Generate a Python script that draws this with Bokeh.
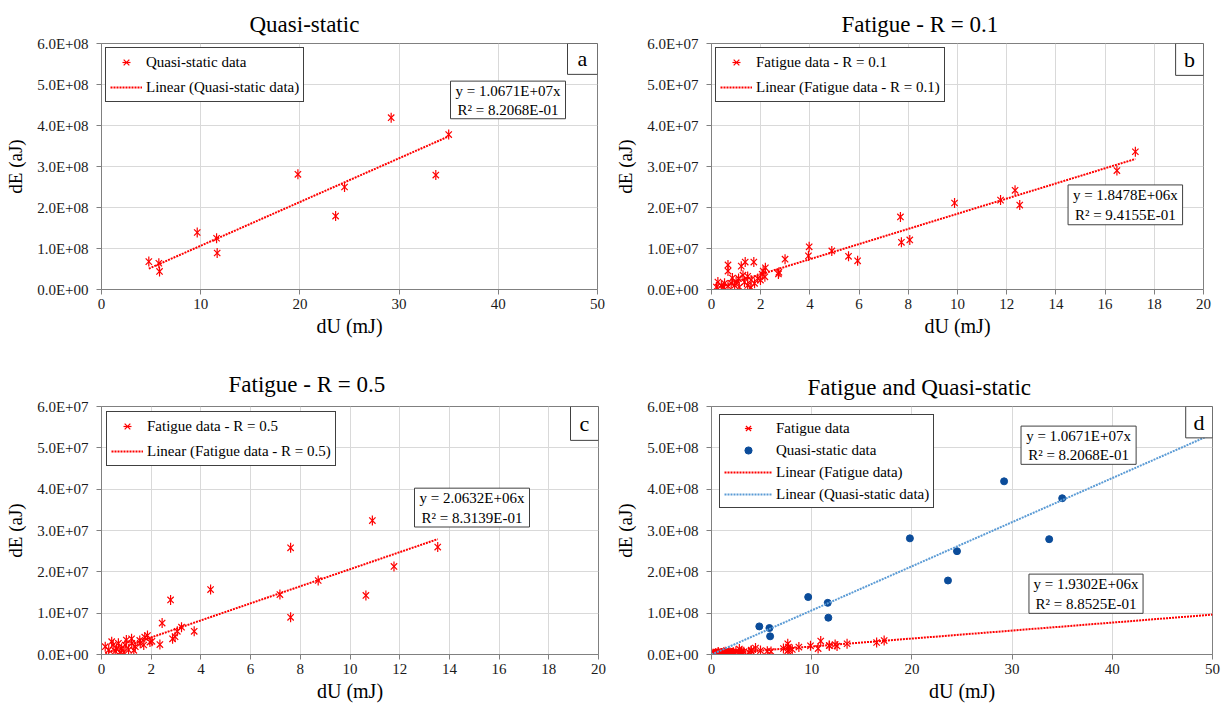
import numpy as np
from bokeh.plotting import figure
from bokeh.layouts import column, row
from bokeh.models import (Range1d, FixedTicker, Legend, LegendItem, Label, BoxAnnotation, Title)
from bokeh.embed import file_html
from bokeh.resources import INLINE

FONT = "Liberation Serif"
RED = "#FF0000"
NAVY = "#0B4C9A"
LBLUE = "#5B9BD5"
FRAME = "#808080"
GRID = "#D9D9D9"
BOXLINE = "#404040"

# ---------------- data ----------------
# Quasi-static: dU (mJ), dE (aJ)
qs_du = [4.77, 5.78, 5.85, 9.65, 11.6, 11.66, 19.8, 23.6, 24.5, 29.2, 33.7, 35.0]
qs_de = [0.68e8, 0.64e8, 0.44e8, 1.39e8, 1.25e8, 0.89e8, 2.81e8, 1.79e8, 2.50e8, 4.19e8, 2.79e8, 3.78e8]

# Fatigue R = 0.1: dU (mJ), dE (x1e7 aJ)
f1_du = [17.23, 16.48, 12.34, 11.75, 12.53, 9.88, 7.68, 7.72, 8.06, 4.89,
         5.57, 5.94, 3.97, 3.94, 2.99, 2.74, 2.72, 0.67, 0.67, 1.21,
         1.37, 1.72, 2.19, 2.06, 1.88, 1.61, 1.28, 1.34, 1.00, 0.80,
         0.53, 0.26, 0.20, 0.47, 0.67, 0.94, 1.13, 1.47, 1.75, 1.99,
         2.17, 1.47, 2.10, 0.40, 1.60, 1.10, 0.85]
f1_de_e7 = [3.36, 2.90, 2.42, 2.18, 2.06, 2.11, 1.77, 1.15, 1.21, 0.94,
            0.81, 0.70, 1.04, 0.82, 0.74, 0.42, 0.38, 0.60, 0.45, 0.57,
            0.67, 0.67, 0.53, 0.37, 0.27, 0.23, 0.35, 0.18, 0.18, 0.15,
            0.15, 0.18, 0.06, 0.05, 0.08, 0.10, 0.06, 0.10, 0.15, 0.23,
            0.31, 0.32, 0.45, 0.10, 0.05, 0.27, 0.28]

# Fatigue R = 0.5: dU (mJ), dE (x1e7 aJ)
f5_du = [10.9, 13.53, 11.77, 7.61, 8.72, 7.18, 7.61, 10.64, 4.39, 2.78,
         2.44, 3.73, 3.22, 3.05, 2.86, 2.35, 1.85, 1.74, 1.95, 1.54,
         1.21, 1.56, 0.41, 0.68, 0.95, 0.15, 0.29, 0.55, 0.81, 1.09,
         1.36, 1.22, 0.47, 0.74, 1.70, 2.03, 1.00, 0.60, 0.90, 1.30,
         2.96]
f5_de_e7 = [3.24, 2.60, 2.13, 2.58, 1.79, 1.45, 0.90, 1.43, 1.57, 1.32,
            0.76, 0.56, 0.66, 0.56, 0.38, 0.24, 0.46, 0.42, 0.30, 0.34,
            0.38, 0.27, 0.31, 0.27, 0.23, 0.19, 0.11, 0.08, 0.15, 0.11,
            0.19, 0.27, 0.23, 0.05, 0.23, 0.32, 0.35, 0.15, 0.05, 0.10,
            0.43]

# trend-line slopes (zero intercept) and equations
slope_qs = 1.0671e7
slope_f1 = 1.8478e6
slope_f5 = 2.0632e6
slope_fat = 1.9302e6
eq_qs = ["y = 1.0671E+07x", "R\u00b2 = 8.2068E-01"]
eq_f1 = ["y = 1.8478E+06x", "R\u00b2 = 9.4155E-01"]
eq_f5 = ["y = 2.0632E+06x", "R\u00b2 = 8.3139E-01"]
eq_fat = ["y = 1.9302E+06x", "R\u00b2 = 8.8525E-01"]

titles = ["Quasi-static", "Fatigue - R = 0.1", "Fatigue - R = 0.5", "Fatigue and Quasi-static"]
letters = ["a", "b", "c", "d"]

x_ticks_50 = [0, 10, 20, 30, 40, 50]
x_labels_50 = ["0", "10", "20", "30", "40", "50"]
x_ticks_20 = [0, 2, 4, 6, 8, 10, 12, 14, 16, 18, 20]
x_labels_20 = ["0", "2", "4", "6", "8", "10", "12", "14", "16", "18", "20"]
y_ticks_8 = [0, 100000000, 200000000, 300000000, 400000000, 500000000, 600000000]
y_labels_8 = ["0.0E+00", "1.0E+08", "2.0E+08", "3.0E+08", "4.0E+08", "5.0E+08", "6.0E+08"]
y_ticks_7 = [0, 10000000, 20000000, 30000000, 40000000, 50000000, 60000000]
y_labels_7 = ["0.0E+00", "1.0E+07", "2.0E+07", "3.0E+07", "4.0E+07", "5.0E+07", "6.0E+07"]

f1_de = [v * 1e7 for v in f1_de_e7]
f5_de = [v * 1e7 for v in f5_de_e7]
fat_du = f1_du + f5_du
fat_de = f1_de + f5_de

# ---------------- layout specs (page pixels) ----------------
SPECS = {
    "a": dict(ox=0, oy=0, w=612, h=354, bl=101, br=15, bt=43, bb=56, x1=50, y1=6e8, toff=148, tstand=14),
    "b": dict(ox=612, oy=0, w=611, h=354, bl=97, br=20, bt=42, bb=65, x1=20, y1=6e7, toff=130, tstand=13),
    "c": dict(ox=0, oy=354, w=612, h=355, bl=101, br=14, bt=52, bb=54, x1=20, y1=6e7, toff=127, tstand=19),
    "d": dict(ox=612, oy=354, w=611, h=355, bl=95, br=11, bt=47, bb=55, x1=50, y1=6e8, toff=96, tstand=14),
}
for s in SPECS.values():
    s["fw"] = s["w"] - s["bl"] - s["br"]
    s["fh"] = s["h"] - s["bt"] - s["bb"]


def to_data(s, X, Y):
    fx = (X - s["ox"] - s["bl"]) / s["fw"]
    fy = (Y - s["oy"] - s["bt"]) / s["fh"]
    return fx * s["x1"], s["y1"] - fy * s["y1"]


def make_fig(key, title, xt, xl, yt, yl):
    s = SPECS[key]
    t = Title(text=title, align="left", offset=s["toff"], standoff=s["tstand"],
              text_font=FONT, text_font_size="23px", text_font_style="normal", text_color="black")
    p = figure(width=s["w"], height=s["h"], x_range=Range1d(0, s["x1"]), y_range=Range1d(0, s["y1"]),
               output_backend="svg", toolbar_location=None, title=t,
               min_border_left=s["bl"], min_border_right=s["br"],
               min_border_top=s["bt"], min_border_bottom=s["bb"],
               background_fill_color="white", border_fill_color="white")
    p.outline_line_color = FRAME
    p.outline_line_width = 1
    p.outline_line_alpha = 1
    p.xaxis.ticker = FixedTicker(ticks=xt)
    p.xaxis.major_label_overrides = dict(zip(xt, xl))
    p.yaxis.ticker = FixedTicker(ticks=yt)
    p.yaxis.major_label_overrides = dict(zip(yt, yl))
    p.xaxis.axis_label = "dU (mJ)"
    p.yaxis.axis_label = "dE (aJ)"
    for ax in (p.xaxis, p.yaxis):
        ax.axis_label_text_font = FONT
        ax.axis_label_text_font_style = "normal"
        ax.axis_label_text_color = "black"
        ax.major_label_text_font = FONT
        ax.major_label_text_font_size = "15px"
        ax.major_label_text_color = "#1a1a1a"
        ax.axis_line_color = FRAME
        ax.major_tick_line_color = FRAME
        ax.major_tick_in = 0
        ax.major_tick_out = 5
        ax.minor_tick_line_color = None
    p.xaxis.axis_label_text_font_size = "20px"
    p.yaxis.axis_label_text_font_size = "19px"
    p.yaxis.major_label_standoff = 8
    p.yaxis.axis_label_standoff = 8
    p.xaxis.major_label_standoff = 4
    p.xaxis.axis_label_standoff = 3
    p.xgrid.grid_line_color = GRID
    p.ygrid.grid_line_color = GRID
    return p


def stars(p, x, y, color):
    r1 = p.scatter(x, y, marker="x", size=9, line_color=color, line_width=1.2)
    r2 = p.scatter(x, y, marker="dash", size=10, angle=np.pi / 2, line_color=color, line_width=1.2)
    return [r1, r2]


def trend(p, x_lo, x_hi, slope, color):
    xs = [x_lo, x_hi]
    ys = [slope * v for v in xs]
    return p.line(xs, ys, line_color=color, line_width=2, line_dash="2 1")


def add_box(p, key, X0, Y0, X1, Y1, lines, size="15px"):
    s = SPECS[key]
    left, top = to_data(s, X0, Y0)
    right, bottom = to_data(s, X1, Y1)
    p.add_layout(BoxAnnotation(left=left, right=right, top=top, bottom=bottom,
                               fill_color="white", fill_alpha=1.0,
                               line_color=BOXLINE, line_alpha=1.0, line_width=1))
    n = len(lines)
    hgt = Y1 - Y0
    for i, t in enumerate(lines):
        cy = Y0 + hgt * (i + 0.5) / n + (0.5 if n > 1 else 0)
        x, y = to_data(s, (X0 + X1) / 2, cy)
        p.add_layout(Label(x=x, y=y, text=t, text_align="center", text_baseline="middle",
                           text_font=FONT, text_font_size=size, text_color="black"))


def add_legend(p, items, margin, glyph_w, row_h, spacing):
    leg = Legend(items=[LegendItem(label=l, renderers=r) for l, r in items],
                 location="top_left", margin=margin, padding=4, spacing=spacing,
                 glyph_width=glyph_w, glyph_height=row_h, label_height=row_h,
                 label_standoff=4,
                 label_text_font=FONT, label_text_font_size="15px", label_text_color="black",
                 border_line_color=BOXLINE, border_line_width=1, border_line_alpha=1,
                 background_fill_color="white", background_fill_alpha=1)
    p.add_layout(leg)


# ---------------- panel a ----------------
pa = make_fig("a", titles[0], x_ticks_50, x_labels_50, y_ticks_8, y_labels_8)
ra = stars(pa, qs_du, qs_de, RED)
la = trend(pa, min(qs_du), max(qs_du), slope_qs, RED)
add_legend(pa, [("Quasi-static data", ra), ("Linear (Quasi-static data)", [la])], 4, 32, 20, 5)
add_box(pa, "a", 450, 82, 565, 121, eq_qs)
add_box(pa, "a", 567, 43, 597, 75, [letters[0]], "22px")

# ---------------- panel b ----------------
pb = make_fig("b", titles[1], x_ticks_20, x_labels_20, y_ticks_7, y_labels_7)
rb = stars(pb, f1_du, f1_de, RED)
lb = trend(pb, min(f1_du), max(f1_du), slope_f1, RED)
add_legend(pb, [("Fatigue data - R = 0.1", rb), ("Linear (Fatigue data - R = 0.1)", [lb])], 4, 32, 20, 5)
add_box(pb, "b", 1067, 184, 1182, 224, eq_f1)
add_box(pb, "b", 1175, 42, 1203, 74, [letters[1]], "22px")

# ---------------- panel c ----------------
pc = make_fig("c", titles[2], x_ticks_20, x_labels_20, y_ticks_7, y_labels_7)
rc = stars(pc, f5_du, f5_de, RED)
lc = trend(pc, min(f5_du), max(f5_du), slope_f5, RED)
add_legend(pc, [("Fatigue data - R = 0.5", rc), ("Linear (Fatigue data - R = 0.5)", [lc])], 5, 32, 20, 5)
add_box(pc, "c", 414, 488, 529, 527, eq_f5)
add_box(pc, "c", 570, 406, 598, 440, [letters[2]], "22px")

# ---------------- panel d ----------------
pd_ = make_fig("d", titles[3], x_ticks_50, x_labels_50, y_ticks_8, y_labels_8)
rd_f = stars(pd_, fat_du, fat_de, RED)
rd_q = pd_.scatter(qs_du, qs_de, marker="circle", size=7, fill_color=NAVY, line_color=NAVY)
ld_f = trend(pd_, 0, 50, slope_fat, RED)
ld_q = trend(pd_, 0, 50, slope_qs, LBLUE)
add_legend(pd_, [("Fatigue data", rd_f), ("Quasi-static data", [rd_q]),
                 ("Linear (Fatigue data)", [ld_f]), ("Linear (Quasi-static data)", [ld_q])], 8, 48, 18, 4)
add_box(pd_, "d", 1019, 421, 1135, 460, eq_qs)
add_box(pd_, "d", 1027, 572, 1142, 612, eq_fat)
add_box(pd_, "d", 1185, 401, 1212, 433, [letters[3]], "22px")

layout = column(row(pa, pb), row(pc, pd_))
open("out.html", "w").write(file_html(layout, INLINE))
